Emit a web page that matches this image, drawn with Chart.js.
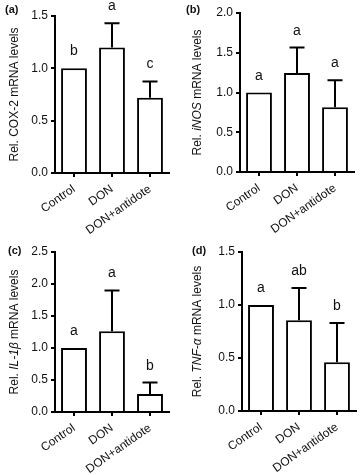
<!DOCTYPE html>
<html>
<head>
<meta charset="utf-8">
<script src="https://cdn.jsdelivr.net/npm/chart.js@4.4.1/dist/chart.umd.min.js"></script>
<style>
  body { margin: 0; background: #fff; }
  #wrap { position: relative; width: 362px; height: 475px; }
  canvas { position: absolute; }
</style>
</head>
<body>
<div id="wrap">
  <canvas id="chartA" width="181" height="237" style="left:0;top:0"></canvas>
  <canvas id="chartB" width="181" height="237" style="left:181px;top:0"></canvas>
  <canvas id="chartC" width="181" height="238" style="left:0;top:237px"></canvas>
  <canvas id="chartD" width="181" height="238" style="left:181px;top:237px"></canvas>
</div>
<script>
// groups on the x axis
const categories = ["Control", "DON", "DON+antidote"];

// (a) COX-2
const cox2Means = [1.0, 1.2, 0.72];
const cox2Errors = [0, 0.23, 0.155];
const cox2Letters = ["b", "a", "c"];

// (b) iNOS
const inosMeans = [1.0, 1.245, 0.815];
const inosErrors = [0, 0.32, 0.34];
const inosLetters = ["a", "a", "a"];

// (c) IL-1beta
const il1bMeans = [1.0, 1.26, 0.28];
const il1bErrors = [0, 0.64, 0.18];
const il1bLetters = ["a", "a", "b"];

// (d) TNF-alpha
const tnfMeans = [1.0, 0.855, 0.46];
const tnfErrors = [0, 0.305, 0.37];
const tnfLetters = ["a", "ab", "b"];

const FONT = "'Liberation Sans', Arial, sans-serif";

// error bars, letters, y title and panel tag
const extras = {
  id: "extras",
  afterDatasetsDraw(chart, args, opts) {
    const ctx = chart.ctx;
    const y = chart.scales.y;
    const area = chart.chartArea;
    const meta = chart.getDatasetMeta(0);
    ctx.save();
    ctx.strokeStyle = "#000";
    ctx.lineWidth = 2;
    ctx.fillStyle = "#111";
    ctx.font = "14px " + FONT;
    ctx.textAlign = "center";
    ctx.textBaseline = "alphabetic";
    meta.data.forEach((bar, i) => {
      const e = opts.errors[i];
      const top = y.getPixelForValue(opts.means[i] + e);
      if (e > 0) {
        ctx.beginPath();
        ctx.moveTo(bar.x, bar.y);
        ctx.lineTo(bar.x, top);
        ctx.moveTo(bar.x - 7.5, top);
        ctx.lineTo(bar.x + 7.5, top);
        ctx.stroke();
      }
      ctx.fillText(opts.letters[i], bar.x, top - 13);
    });

    // y axis title, part of it italic
    ctx.save();
    ctx.translate(opts.titleX, (area.top + area.bottom) / 2);
    ctx.rotate(-Math.PI / 2);
    ctx.textAlign = "left";
    ctx.textBaseline = "middle";
    let total = 0;
    opts.title.forEach((p) => {
      ctx.font = (p.italic ? "italic " : "") + "12px " + FONT;
      total += ctx.measureText(p.text).width;
    });
    let x = -total / 2;
    opts.title.forEach((p) => {
      ctx.font = (p.italic ? "italic " : "") + "12px " + FONT;
      ctx.fillText(p.text, x, 0);
      x += ctx.measureText(p.text).width;
    });
    ctx.restore();

    ctx.font = "bold 11px " + FONT;
    ctx.textAlign = "left";
    ctx.fillText(opts.tag, opts.tagX, opts.tagY);
    ctx.restore();
  },
};

function dibujar(id, means, errors, letters, max, title, box) {
  new Chart(document.getElementById(id), {
    type: "bar",
    data: {
      labels: categories,
      datasets: [
        {
          data: means,
          backgroundColor: "#fff",
          borderColor: "#000",
          borderWidth: 2,
          categoryPercentage: 1,
          barPercentage: 0.68,
        },
      ],
    },
    options: {
      responsive: false,
      animation: false,
      layout: { padding: { left: 0, top: box.top, right: box.right, bottom: 0 } },
      plugins: {
        legend: { display: false },
        tooltip: { enabled: false },
        extras: {
          means,
          errors,
          letters,
          title,
          titleX: box.titleX,
          tag: box.tag,
          tagX: box.tagX,
          tagY: box.tagY,
        },
      },
      scales: {
        x: {
          afterFit: (s) => { s.height = box.xh; },
          border: { color: "#000", width: 2 },
          grid: { display: true, drawOnChartArea: false, offset: false, tickLength: 4, color: "#000", lineWidth: 2 },
          ticks: {
            color: "#111",
            font: { family: FONT, size: 12 },
            minRotation: 35,
            maxRotation: 35,
            autoSkip: false,
            padding: 5,
          },
        },
        y: {
          min: 0,
          max: max,
          afterFit: (s) => { s.width = box.left; },
          border: { color: "#000", width: 2 },
          grid: { display: true, drawOnChartArea: false, tickLength: 4, color: "#000", lineWidth: 2 },
          ticks: {
            stepSize: 0.5,
            color: "#111",
            font: { family: FONT, size: 12 },
            padding: 3,
            callback: (v) => v.toFixed(1),
          },
        },
      },
    },
    plugins: [extras],
  });
}

dibujar("chartA", cox2Means, cox2Errors, cox2Letters, 1.5,
  [{ text: "Rel. " }, { text: "COX-2" }, { text: " mRNA levels" }],
  { left: 55, top: 16, right: 12, xh: 64, titleX: 15, tag: "(a)", tagX: 5, tagY: 13 });

dibujar("chartB", inosMeans, inosErrors, inosLetters, 2.0,
  [{ text: "Rel. " }, { text: "iNOS", italic: true }, { text: " mRNA levels" }],
  { left: 59, top: 13, right: 8, xh: 65, titleX: 17, tag: "(b)", tagX: 5, tagY: 13 });

dibujar("chartC", il1bMeans, il1bErrors, il1bLetters, 2.5,
  [{ text: "Rel. " }, { text: "IL-1\u03B2", italic: true }, { text: " mRNA levels" }],
  { left: 55, top: 15, right: 12, xh: 63, titleX: 15, tag: "(c)", tagX: 8, tagY: 17 });

dibujar("chartD", tnfMeans, tnfErrors, tnfLetters, 1.5,
  [{ text: "Rel. " }, { text: "TNF-\u03B1", italic: true }, { text: " mRNA levels" }],
  { left: 61, top: 15, right: 6, xh: 64, titleX: 17, tag: "(d)", tagX: 11, tagY: 17 });
</script>
</body>
</html>
